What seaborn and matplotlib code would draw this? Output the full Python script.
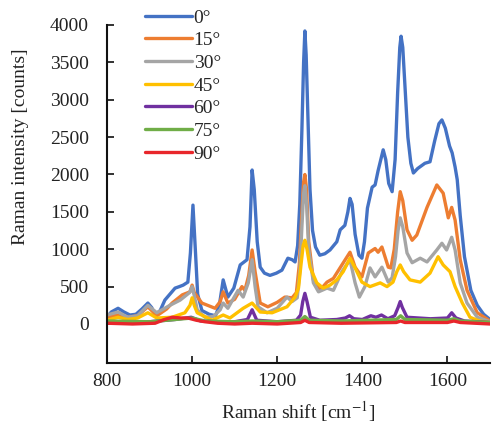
import numpy as np
import pandas as pd
import matplotlib
matplotlib.use("Agg")
import matplotlib.pyplot as plt
import seaborn as sns

# ---------------- data ----------------
angles = ["0°", "15°", "30°", "45°", "60°", "75°", "90°"]
colors = ["#4472C4", "#ED7D31", "#A5A5A5", "#FFC000", "#7030A0", "#70AD47", "#E8262B"]

x_0 = [800, 810, 826, 840, 854, 868, 882, 896, 905, 913, 925, 936, 948, 960, 970, 979, 990,
       996, 1002, 1008, 1013, 1023, 1040, 1055, 1064, 1073, 1084, 1098, 1113, 1129, 1136, 1141,
       1146, 1153, 1160, 1170, 1183, 1198, 1211, 1225, 1235, 1242, 1248, 1253, 1258, 1262, 1265,
       1268, 1272, 1277, 1283, 1290, 1300, 1312, 1324, 1340, 1348, 1359, 1366, 1371, 1376, 1383,
       1392, 1399, 1405, 1412, 1423, 1430, 1437, 1443, 1449, 1455, 1462, 1470, 1477, 1483, 1488,
       1491, 1495, 1500, 1507, 1514, 1520, 1530, 1547, 1559, 1570, 1580, 1587, 1595, 1605, 1611,
       1618, 1623, 1630, 1640, 1655, 1670, 1685, 1700]
y_0 = [90, 160, 210, 160, 120, 130, 200, 280, 220, 120, 180, 320, 400, 480, 500, 520, 560,
       950, 1590, 950, 400, 180, 130, 110, 250, 590, 360, 480, 790, 860, 1300, 2060,
       1800, 1100, 760, 680, 650, 680, 720, 880, 860, 830, 1050, 1600, 2600, 3500, 3920,
       3600, 2800, 1800, 1250, 1030, 920, 940, 990, 1100, 1260, 1320, 1500, 1680, 1600, 1200,
       920, 880, 1100, 1550, 1830, 1860, 2050, 2190, 2330, 2200, 1880, 1770, 2200, 3100, 3700,
       3850, 3700, 3200, 2500, 2150, 2020, 2080, 2150, 2170, 2450, 2680, 2730, 2620, 2380, 2290,
       2100, 1930, 1450, 900, 450, 250, 130, 60]

x_15 = [800, 826, 849, 872, 896, 917, 940, 953, 977, 995, 1000, 1005, 1023, 1054, 1066, 1073,
        1084, 1100, 1117, 1124, 1133, 1141, 1148, 1160, 1178, 1200, 1218, 1235, 1245, 1252, 1258,
        1262, 1265, 1269, 1274, 1285, 1300, 1317, 1332, 1352, 1371, 1383, 1399, 1414, 1430, 1437,
        1446, 1461, 1467, 1475, 1483, 1489, 1495, 1505, 1517, 1528, 1552, 1575, 1590, 1602, 1610,
        1618, 1630, 1646, 1670, 1700]
y_15 = [90, 120, 90, 110, 230, 110, 200, 280, 390, 430, 520, 420, 280, 210, 300, 430,
        280, 330, 500, 450, 650, 990, 700, 280, 230, 290, 360, 350, 420, 800, 1500,
        1900, 2000, 1800, 1100, 590, 450, 560, 610, 790, 960, 760, 630, 950, 1010, 960,
        1030, 760, 750, 1000, 1500, 1770, 1650, 1260, 1120, 1190, 1560, 1860, 1750, 1420, 1560,
        1390, 860, 450, 150, 40]

x_30 = [800, 826, 849, 872, 896, 917, 948, 972, 994, 1000, 1005, 1012, 1030, 1050, 1066, 1073,
        1084, 1108, 1120, 1132, 1141, 1148, 1155, 1176, 1200, 1223, 1235, 1247, 1253, 1258, 1262,
        1265, 1269, 1274, 1285, 1297, 1317, 1332, 1352, 1371, 1383, 1393, 1406, 1418, 1430, 1446,
        1461, 1470, 1478, 1484, 1489, 1495, 1505, 1517, 1536, 1552, 1575, 1587, 1598, 1610, 1618,
        1630, 1646, 1670, 1700]
y_30 = [120, 160, 90, 110, 250, 150, 250, 320, 420, 500, 380, 190, 90, 100, 190, 280,
        210, 450, 360, 550, 860, 500, 230, 150, 210, 360, 300, 350, 700, 1300, 1750,
        1850, 1600, 1000, 550, 430, 480, 450, 700, 860, 550, 360, 500, 750, 630, 760,
        560, 620, 900, 1250, 1420, 1300, 950, 820, 880, 830, 990, 1080, 990, 1160, 990,
        550, 280, 90, 30]

x_45 = [800, 826, 849, 872, 896, 917, 953, 983, 995, 1000, 1005, 1012, 1047, 1073, 1089, 1120,
        1141, 1160, 1188, 1223, 1242, 1250, 1256, 1261, 1265, 1270, 1277, 1293, 1308, 1324, 1340,
        1355, 1371, 1383, 1399, 1418, 1442, 1458, 1472, 1481, 1489, 1497, 1512, 1536, 1559, 1578,
        1590, 1606, 1618, 1635, 1653, 1675, 1700]
y_45 = [50, 90, 60, 80, 150, 80, 90, 150, 250, 350, 250, 150, 50, 120, 80, 210,
        280, 160, 150, 230, 360, 480, 800, 1050, 1120, 1000, 760, 550, 480, 520, 590,
        700, 880, 750, 560, 500, 550, 500, 560, 700, 790, 700, 590, 560, 680, 900,
        790, 700, 500, 280, 90, 40, 20]

x_60 = [800, 850, 900, 960, 998, 1020, 1060, 1100, 1130, 1141, 1152, 1200, 1245, 1255, 1260,
        1265, 1270, 1278, 1300, 1340, 1360, 1370, 1380, 1400, 1420, 1432, 1445, 1460, 1476, 1484,
        1489, 1494, 1505, 1560, 1600, 1610, 1620, 1640, 1700]
y_60 = [20, 20, 30, 60, 90, 40, 30, 30, 60, 190, 50, 30, 50, 120, 300,
        410, 300, 90, 50, 60, 80, 110, 70, 60, 110, 90, 120, 70, 110, 220,
        300, 220, 90, 70, 80, 150, 80, 40, 20]

x_75 = [800, 900, 960, 1000, 1030, 1100, 1141, 1200, 1255, 1265, 1275, 1350, 1480, 1490, 1500,
        1600, 1615, 1630, 1700]
y_75 = [40, 30, 60, 80, 40, 30, 40, 30, 50, 100, 50, 40, 60, 110, 60, 50, 70, 40, 20]

x_90 = [800, 860, 913, 935, 953, 975, 990, 1010, 1030, 1060, 1100, 1141, 1200, 1255, 1265, 1275,
        1350, 1480, 1490, 1500, 1600, 1615, 1630, 1700]
y_90 = [10, 0, 10, 60, 90, 80, 80, 50, 30, 10, 0, 10, 0, 20, 50, 20,
        10, 20, 40, 20, 20, 40, 20, 0]

xs = [x_0, x_15, x_30, x_45, x_60, x_75, x_90]
ys = [y_0, y_15, y_30, y_45, y_60, y_75, y_90]

x_ticks = [800, 1000, 1200, 1400, 1600]
y_ticks = [0, 500, 1000, 1500, 2000, 2500, 3000, 3500, 4000]

df = pd.concat(
    [pd.DataFrame({"shift": x, "intensity": y, "angle": a}) for a, x, y in zip(angles, xs, ys)],
    ignore_index=True,
)

# ---------------- style ----------------
sns.set_theme(style="ticks")
plt.rcParams["font.family"] = ["Liberation Serif", "DejaVu Serif"]
plt.rcParams["mathtext.fontset"] = "stix"

fig = plt.figure(figsize=(4.92, 4.25), dpi=100)
ax = fig.add_axes([107 / 492, 62 / 425, 383 / 492, 338 / 425])

sns.lineplot(
    data=df, x="shift", y="intensity", hue="angle", hue_order=angles,
    palette=colors, sort=False, estimator=None, linewidth=2.4, ax=ax,
    solid_joinstyle="round", solid_capstyle="round",
)

ax.set_xlim(800, 1700)
ax.set_ylim(-522, 4000)
ax.set_xticks(x_ticks)
ax.set_yticks(y_ticks)
ax.tick_params(axis="both", direction="in", length=5, width=1.3, labelsize=14,
               colors="#222222")
ax.tick_params(axis="y", pad=13)
ax.tick_params(axis="x", pad=7)
for s in ["top", "right"]:
    ax.spines[s].set_visible(False)
for s in ["left", "bottom"]:
    ax.spines[s].set_linewidth(1.5)
    ax.spines[s].set_color("#111111")

ax.set_xlabel(r"Raman shift [cm$^{-1}$]", fontsize=14, color="#222222", labelpad=7)
ax.set_ylabel("Raman intensity [counts]", fontsize=14, color="#222222")
ax.yaxis.set_label_coords(-0.204, 0.639)

sns.move_legend(
    ax, loc="upper left", bbox_to_anchor=(145 / 492, 1 - 9 / 425),
    bbox_transform=fig.transFigure, frameon=False, title=None, fontsize=14,
    handlelength=2.4, handletextpad=0.1, labelspacing=0.26, borderpad=0, borderaxespad=0,
)
for line in ax.get_legend().get_lines():
    line.set_linewidth(2.4)

fig.savefig("out.png", dpi=100)
